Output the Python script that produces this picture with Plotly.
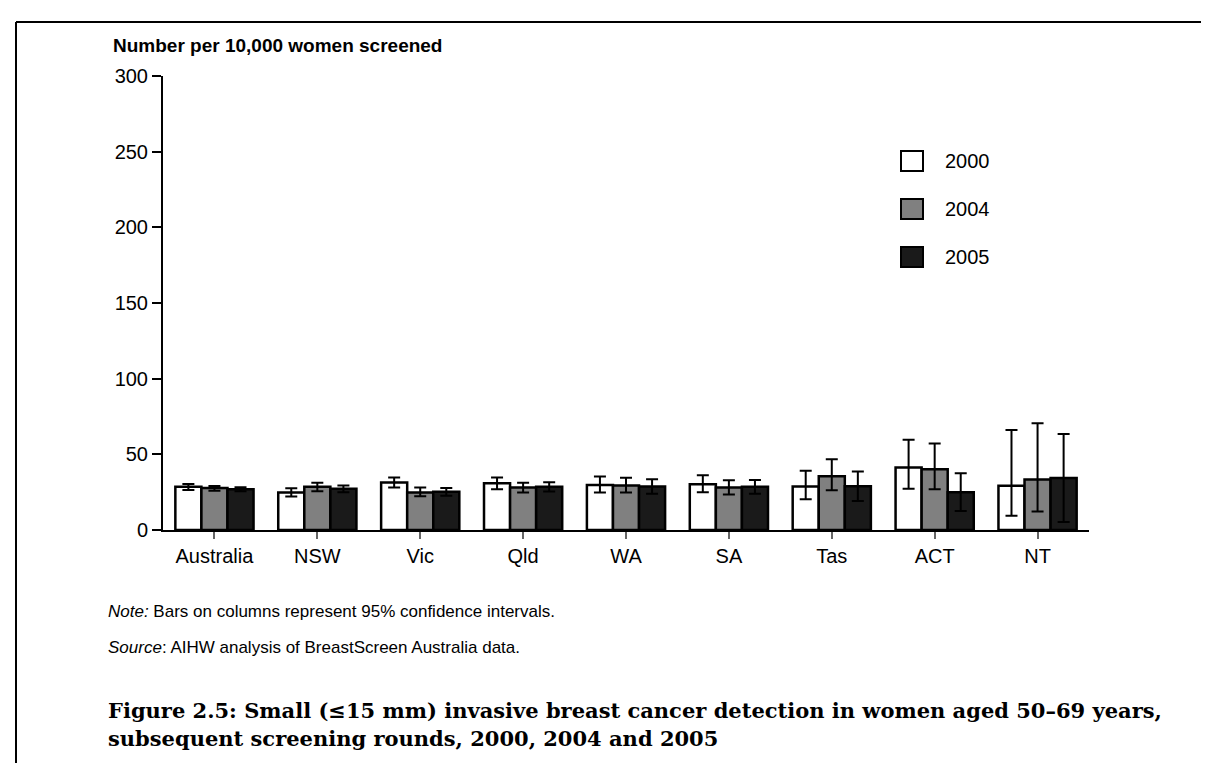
import plotly.graph_objects as go

categories = ["Australia", "NSW", "Vic", "Qld", "WA", "SA", "Tas", "ACT", "NT"]
years = ["2000", "2004", "2005"]

v2000 = [28.6, 24.8, 31.4, 30.9, 29.8, 30.2, 28.7, 41.3, 29.2]
hi2000 = [30.4, 27.6, 34.7, 34.7, 35.3, 36.2, 39.1, 59.7, 66.1]
lo2000 = [26.4, 22.1, 28.1, 26.9, 24.8, 25.0, 20.3, 27.2, 9.4]

v2004 = [27.8, 28.5, 24.8, 28.1, 29.4, 28.1, 35.5, 40.1, 33.3]
hi2004 = [29.1, 31.2, 28.1, 31.2, 34.5, 32.9, 46.7, 57.1, 70.5]
lo2004 = [26.0, 25.6, 22.3, 24.8, 24.8, 23.4, 26.3, 26.9, 12.2]

v2005 = [26.9, 27.2, 25.2, 28.5, 28.7, 28.5, 28.9, 25.0, 34.4]
hi2005 = [28.2, 29.4, 27.8, 31.6, 33.5, 33.1, 38.6, 37.5, 63.5]
lo2005 = [25.6, 25.0, 22.6, 25.4, 24.0, 24.0, 19.2, 12.5, 5.3]

colors = ["#ffffff", "#808080", "#1a1a1a"]
yticks = [0, 50, 100, 150, 200, 250, 300]

W, H = 1209, 763
L, R, T, B = 155, 128, 68, 241
PW, PH = W - L - R, H - T - B


def px(x):
    return (x - L) / PW


def py(y):
    return (H - B - y) / PH


SANS = "Liberation Sans, Arial, sans-serif"
SERIF = "DejaVu Serif, serif"

fig = go.Figure()
series = [(v2000, hi2000, lo2000), (v2004, hi2004, lo2004), (v2005, hi2005, lo2005)]
for name, (v, hi, lo), col in zip(years, series, colors):
    fig.add_trace(go.Bar(
        x=categories, y=v, name=name,
        marker=dict(color=col, line=dict(color="#000000", width=2.5)),
        error_y=dict(type="data", symmetric=False,
                     array=[h - a for h, a in zip(hi, v)],
                     arrayminus=[a - l for a, l in zip(v, lo)],
                     color="#000000", thickness=2, width=6),
        showlegend=False,
    ))

fig.update_layout(
    width=W, height=H,
    margin=dict(l=L, r=R, t=T, b=B, pad=0),
    paper_bgcolor="white", plot_bgcolor="white",
    barmode="group", bargap=0.24, bargroupgap=0,
    font=dict(family=SANS, color="#000000", size=20),
    xaxis=dict(showline=True, linecolor="#000000", linewidth=2,
               ticks="outside", ticklen=7, tickcolor="#666666", tickwidth=2,
               tickfont=dict(size=20), showgrid=False, zeroline=False,
               range=[-0.5, 8.5]),
    yaxis=dict(range=[0, 300], tickvals=yticks, showline=True,
               linecolor="#000000", linewidth=2, ticks="outside", ticklen=9,
               tickcolor="#000000", tickwidth=1.5, tickfont=dict(size=20),
               showgrid=False, zeroline=False),
)

annotations = [
    dict(x=px(103), y=py(38), text="<b>Number per 10,000 women screened</b>",
         font=dict(size=19, family=SANS), xanchor="left", yanchor="middle"),
    dict(x=px(98), y=py(603),
         text="<i>Note:</i> Bars on columns represent 95% confidence intervals.",
         font=dict(size=17, family=SANS), xanchor="left", yanchor="middle"),
    dict(x=px(98), y=py(639),
         text="<i>Source</i>: AIHW analysis of BreastScreen Australia data.",
         font=dict(size=17, family=SANS), xanchor="left", yanchor="middle"),
    dict(x=px(98), y=py(702),
         text="<b>Figure 2.5: Small (≤15 mm) invasive breast cancer detection in women aged 50–69 years,</b>",
         font=dict(size=21, family=SERIF), xanchor="left", yanchor="middle"),
    dict(x=px(98), y=py(730),
         text="<b>subsequent screening rounds, 2000, 2004 and 2005</b>",
         font=dict(size=21, family=SERIF), xanchor="left", yanchor="middle"),
]

shapes = [
    dict(type="line", xref="paper", yref="paper", x0=px(8), x1=px(1212),
         y0=py(14), y1=py(14), line=dict(color="#000000", width=2)),
    dict(type="line", xref="paper", yref="paper", x0=px(8), x1=px(8),
         y0=py(14), y1=py(766), line=dict(color="#000000", width=2)),
]

legend_y = [153, 201, 249]
for name, col, ly in zip(years, colors, legend_y):
    shapes.append(dict(type="rect", xref="paper", yref="paper",
                       x0=px(893), x1=px(915), y0=py(ly - 10), y1=py(ly + 10),
                       fillcolor=col, line=dict(color="#000000", width=2)))
    annotations.append(dict(x=px(935), y=py(ly), text=name,
                            font=dict(size=20, family=SANS),
                            xanchor="left", yanchor="middle"))

for a in annotations:
    a.update(xref="paper", yref="paper", showarrow=False)

fig.update_layout(annotations=annotations, shapes=shapes)
fig.write_html("out.html")
